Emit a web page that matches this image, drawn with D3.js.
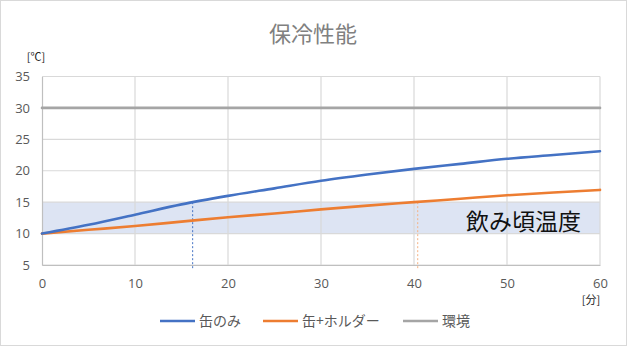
<!DOCTYPE html>
<html>
<head>
<meta charset="utf-8">
<script src="https://cdn.jsdelivr.net/npm/d3@7"></script>
<style>
  html, body { margin: 0; padding: 0; background: #fff; }
  svg { display: block; font-family: "Noto Sans CJK JP", "Noto Sans", sans-serif; }
</style>
</head>
<body>
<svg id="chart" width="627" height="346"></svg>
<script>
// Elapsed time [min]
const minutes = [0, 5, 10, 15, 20, 25, 30, 35, 40, 45, 50, 55, 60];
// Can temperature without holder [°C]
const canOnly = [10, 11.4, 13.0, 14.65, 16.0, 17.2, 18.4, 19.4, 20.3, 21.1, 21.9, 22.5, 23.1];
// Can temperature with holder [°C]
const canHolder = [10, 10.6, 11.2, 11.9, 12.6, 13.2, 13.85, 14.45, 15.0, 15.55, 16.1, 16.55, 16.95];
// Ambient temperature [°C]
const ambient = [30, 30, 30, 30, 30, 30, 30, 30, 30, 30, 30, 30, 30];

const seriesNames = ["缶のみ", "缶+ホルダー", "環境"];
const seriesColors = ["#4472c4", "#ed7d31", "#a5a5a5"];

const xTicks = [0, 10, 20, 30, 40, 50, 60];
const yTicks = [5, 10, 15, 20, 25, 30, 35];

// Drinkable temperature band and the minutes at which each can leaves it
const drinkBand = [10, 15];
const bandLabel = "飲み頃温度";
const exitTimes = [16.2, 40.4];

const title = "保冷性能";
const yUnit = "[℃]";
const xUnit = "[分]";

const svg = d3.select("#chart");
const W = 627, H = 346;
const m = { left: 42, right: 27, top: 76.5, bottom: 81 };

const x = d3.scaleLinear().domain([0, 60]).range([m.left, W - m.right]);
const y = d3.scaleLinear().domain([5, 35]).range([H - m.bottom, m.top]);

// outer frame
svg.append("rect")
  .attr("x", 0.5).attr("y", 0.5).attr("width", W - 1).attr("height", H - 1)
  .attr("fill", "#fff").attr("stroke", "#d9d9d9");

// title
svg.append("text")
  .attr("x", 313).attr("y", 42)
  .attr("text-anchor", "middle")
  .attr("font-size", 22)
  .attr("fill", "#808080")
  .text(title);

// drinkable band
svg.append("rect")
  .attr("x", x(0)).attr("width", x(60) - x(0))
  .attr("y", y(drinkBand[1])).attr("height", y(drinkBand[0]) - y(drinkBand[1]))
  .attr("fill", "#dde4f3");

// grid
const grid = svg.append("g").attr("stroke", "#d9d9d9").attr("stroke-width", 1.2);
grid.selectAll("line.h").data(yTicks).join("line")
  .attr("x1", x(0)).attr("x2", x(60))
  .attr("y1", d => y(d)).attr("y2", d => y(d));
grid.selectAll("line.v").data(xTicks.slice(1)).join("line")
  .attr("x1", d => x(d)).attr("x2", d => x(d))
  .attr("y1", y(35)).attr("y2", y(5));

// axes
const xAxis = svg.append("g")
  .attr("transform", `translate(0,${y(5)})`)
  .call(d3.axisBottom(x).tickValues(xTicks).tickSize(0).tickPadding(14));
const yAxis = svg.append("g")
  .attr("transform", `translate(${x(0)},0)`)
  .call(d3.axisLeft(y).tickValues(yTicks).tickSize(0).tickPadding(12));
[xAxis, yAxis].forEach(g => {
  g.select(".domain").attr("stroke", "#bfbfbf").attr("stroke-width", 1.2);
  g.selectAll("text").attr("font-size", 13).attr("fill", "#595959")
    .attr("font-family", "'Open Sans', 'Noto Sans', sans-serif");
});

// band label
svg.append("text")
  .attr("x", x(60) - 19).attr("y", y(drinkBand[0]) - 4)
  .attr("text-anchor", "end")
  .attr("font-size", 23)
  .attr("font-weight", 400)
  .attr("fill", "#111")
  .text(bandLabel);

// dashed markers where each curve crosses the upper band limit
const markerColors = ["#4472c4", "#f4b183"];
svg.selectAll("line.marker").data(exitTimes).join("line")
  .attr("x1", d => x(d)).attr("x2", d => x(d))
  .attr("y1", y(drinkBand[1])).attr("y2", y(5) + 5)
  .attr("stroke", (d, i) => markerColors[i])
  .attr("stroke-width", 1)
  .attr("stroke-dasharray", "2,2");

// series lines
const series = [canOnly, canHolder, ambient];
const line = d3.line()
  .x((d, i) => x(minutes[i]))
  .y(d => y(d))
  .curve(d3.curveMonotoneX);
// draw ambient first so the curves sit on top
[2, 1, 0].forEach(k => {
  svg.append("path")
    .datum(series[k])
    .attr("fill", "none")
    .attr("stroke", seriesColors[k])
    .attr("stroke-width", 2.6)
    .attr("stroke-linecap", "round")
    .attr("d", line);
});

// units
svg.append("text").attr("x", 36).attr("y", 61)
  .attr("text-anchor", "middle").attr("font-size", 11).attr("fill", "#222")
  .text(yUnit);
svg.append("text").attr("x", 591).attr("y", 304)
  .attr("text-anchor", "middle").attr("font-size", 11).attr("fill", "#222")
  .text(xUnit);

// legend
const legendX = [160, 263, 403];
const lg = svg.append("g");
seriesNames.forEach((name, i) => {
  lg.append("line")
    .attr("x1", legendX[i]).attr("x2", legendX[i] + 35)
    .attr("y1", 321).attr("y2", 321)
    .attr("stroke", seriesColors[i]).attr("stroke-width", 2.6);
  lg.append("text")
    .attr("x", legendX[i] + 39).attr("y", 326)
    .attr("font-size", 14).attr("fill", "#595959")
    .text(name);
});
</script>
</body>
</html>
